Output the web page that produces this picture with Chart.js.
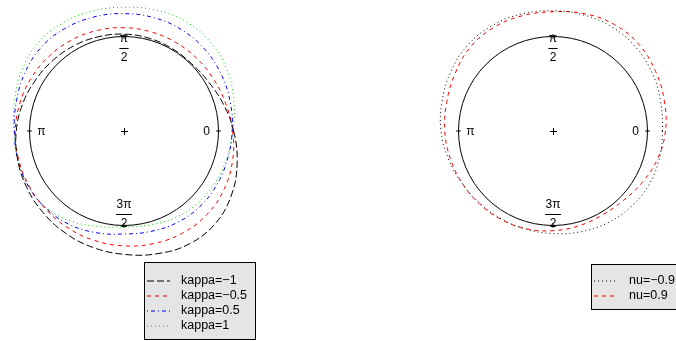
<!DOCTYPE html>
<html>
<head>
<meta charset="utf-8">
<script src="https://cdn.jsdelivr.net/npm/chart.js@4.4.0/dist/chart.umd.min.js"></script>
<style>
  html, body { margin: 0; padding: 0; background: #ffffff; width: 676px; height: 341px; overflow: hidden; }
  canvas { position: absolute; top: 0; }
  #kappaPlot { left: 0; }
  #nuPlot { left: 338px; }
</style>
</head>
<body>
<canvas id="kappaPlot" width="338" height="341"></canvas>
<canvas id="nuPlot" width="338" height="341"></canvas>
<script>
// Angles (degrees, counter-clockwise from 0) at which the densities are evaluated
const angles = [0, 15, 30, 45, 60, 75, 90, 105, 120, 135, 150, 165,
                180, 195, 210, 225, 240, 255, 270, 285, 300, 315, 330, 345];

// Circular density values, kappa family
const kappaNames = ['kappa=\u22121', 'kappa=\u22120.5', 'kappa=0.5', 'kappa=1'];
const kappaMinus1 = [0.160, 0.090, 0.035, 0.010, 0.010, 0.017, 0.025, 0.033, 0.045, 0.060, 0.080, 0.110,
                     0.140, 0.165, 0.190, 0.215, 0.245, 0.275, 0.305, 0.345, 0.380, 0.375, 0.320, 0.240];
const kappaMinus05 = [0.150, 0.115, 0.095, 0.088, 0.085, 0.087, 0.093, 0.101, 0.110, 0.120, 0.130, 0.140,
                      0.150, 0.155, 0.160, 0.170, 0.185, 0.200, 0.215, 0.232, 0.245, 0.245, 0.225, 0.190];
const kappaPlus05 = [0.145, 0.165, 0.190, 0.215, 0.232, 0.240, 0.242, 0.248, 0.252, 0.245, 0.215, 0.180,
                     0.160, 0.162, 0.168, 0.162, 0.145, 0.115, 0.090, 0.100, 0.120, 0.133, 0.135, 0.135];
const kappaPlus1 = [0.150, 0.205, 0.265, 0.310, 0.330, 0.322, 0.310, 0.312, 0.315, 0.300, 0.255, 0.200,
                    0.165, 0.165, 0.170, 0.155, 0.105, 0.045, 0.015, 0.030, 0.065, 0.090, 0.108, 0.125];

// Circular density values, nu family
const nuNames = ['nu=\u22120.9', 'nu=0.9'];
const nuMinus09 = [0.158, 0.180, 0.215, 0.245, 0.265, 0.270, 0.272, 0.282, 0.288, 0.280, 0.250, 0.215,
                   0.185, 0.145, 0.110, 0.088, 0.078, 0.077, 0.085, 0.105, 0.130, 0.150, 0.163, 0.163];
const nuPlus09 = [0.190, 0.220, 0.255, 0.290, 0.300, 0.285, 0.262, 0.262, 0.262, 0.245, 0.200, 0.165,
                  0.145, 0.125, 0.108, 0.095, 0.085, 0.072, 0.055, 0.040, 0.030, 0.045, 0.090, 0.145];

// Axis annotations around the unit circle: angle, numerator, denominator
const tickAngles = [0, 90, 180, 270];
const tickTop = ['0', '\u03c0', '\u03c0', '3\u03c0'];
const tickBottom = ['', '2', '', '2'];

const AXIS_FONT = '12px "Liberation Sans", Arial, Helvetica, sans-serif';
const LEGEND_FONT = '12.5px "Liberation Sans", Arial, Helvetica, sans-serif';
const HALF = 122;          // half side of the square plotting area, px
const UNIT = 94.5;         // pixel radius of the unit circle
const R_MAX = HALF / UNIT; // radial scale maximum

// Radar indices run clockwise from the right; reorder the counter-clockwise data
function clockwise(values) {
  const n = values.length;
  return values.map((_, i) => 1 + values[(n - i) % n]);
}
const radarLabels = angles.map((_, i) => String((360 - angles[i]) % 360));

// Unit circle, centre mark, ticks, tick labels and the legend box
const circularAxis = {
  id: 'circularAxis',
  beforeDatasetsDraw(chart) {
    const sc = chart.scales.r;
    const cx = sc.xCenter, cy = sc.yCenter;
    const rad = sc.getDistanceFromCenterForValue(1);
    const ctx = chart.ctx;
    ctx.save();
    ctx.strokeStyle = '#000';
    ctx.lineWidth = 1;
    ctx.setLineDash([]);
    ctx.beginPath();
    ctx.arc(cx, cy, rad, 0, Math.PI * 2);
    ctx.stroke();
    // centre cross
    ctx.beginPath();
    ctx.moveTo(cx - 3, cy + 0.5); ctx.lineTo(cx + 4, cy + 0.5);
    ctx.moveTo(cx + 0.5, cy - 3); ctx.lineTo(cx + 0.5, cy + 4);
    ctx.stroke();
    ctx.font = AXIS_FONT;
    ctx.fillStyle = '#000';
    ctx.textAlign = 'center';
    ctx.textBaseline = 'middle';
    tickAngles.forEach((a, i) => {
      const t = a * Math.PI / 180;
      const c = Math.cos(t), s = -Math.sin(t);
      ctx.beginPath();
      ctx.moveTo(cx + c * rad * 0.975, cy + s * rad * 0.975);
      ctx.lineTo(cx + c * rad * 1.025, cy + s * rad * 1.025);
      ctx.stroke();
      const lx = cx + c * rad * 0.875, ly = cy + s * rad * 0.875;
      if (tickBottom[i]) {
        const w = Math.max(ctx.measureText(tickTop[i]).width, ctx.measureText(tickBottom[i]).width) + 1;
        ctx.fillText(tickTop[i], lx, ly - 9.5);
        ctx.fillText(tickBottom[i], lx, ly + 9.5);
        ctx.beginPath();
        ctx.moveTo(lx - w / 2, Math.round(ly) + 0.5); ctx.lineTo(lx + w / 2, Math.round(ly) + 0.5);
        ctx.stroke();
      } else {
        ctx.fillText(tickTop[i], lx, ly + 0.5);
      }
    });
    ctx.restore();
  },
  afterDraw(chart, args, opts) {
    const lg = opts.legend;
    if (!lg) return;
    const ctx = chart.ctx;
    ctx.save();
    ctx.fillStyle = '#e5e5e5';
    ctx.fillRect(lg.x, lg.y, lg.w, lg.h);
    ctx.strokeStyle = '#000';
    ctx.lineWidth = 1;
    ctx.strokeRect(lg.x, lg.y, lg.w, lg.h);
    ctx.font = LEGEND_FONT;
    ctx.textAlign = 'left';
    ctx.textBaseline = 'middle';
    chart.data.datasets.forEach((ds, i) => {
      const y = lg.firstRow + i * lg.rowGap;
      ctx.strokeStyle = ds.borderColor;
      ctx.setLineDash(ds.borderDash || []);
      ctx.beginPath();
      ctx.moveTo(lg.sampleX0, y); ctx.lineTo(lg.sampleX1, y);
      ctx.stroke();
      ctx.setLineDash([]);
      ctx.fillStyle = '#000';
      ctx.fillText(ds.label, lg.textX, y);
    });
    ctx.restore();
  }
};

function makeChart(id, series, padLeft, legend) {
  const padRight = 338 - padLeft - 2 * HALF;
  const padTop = 131.7 - HALF;
  const padBottom = 341 - padTop - 2 * HALF;
  return new Chart(document.getElementById(id), {
    type: 'radar',
    data: {
      labels: radarLabels,
      datasets: series.map(s => ({
        label: s.name,
        data: clockwise(s.values),
        borderColor: s.color,
        borderDash: s.dash,
        borderWidth: 1,
        pointRadius: 0,
        pointHoverRadius: 0,
        fill: false,
        tension: 0.4,
        clip: false
      }))
    },
    options: {
      responsive: false,
      animation: false,
      events: [],
      layout: { padding: { left: padLeft, right: padRight, top: padTop, bottom: padBottom } },
      plugins: {
        legend: { display: false },
        tooltip: { enabled: false },
        circularAxis: { legend }
      },
      scales: {
        r: {
          min: 0,
          max: R_MAX,
          startAngle: 90,
          grid: { display: false },
          angleLines: { display: false },
          ticks: { display: false },
          pointLabels: { display: false }
        }
      }
    },
    plugins: [circularAxis]
  });
}

makeChart('kappaPlot', [
  { name: kappaNames[0], values: kappaMinus1, color: '#000000', dash: [7, 3] },
  { name: kappaNames[1], values: kappaMinus05, color: '#ff0000', dash: [4, 4] },
  { name: kappaNames[2], values: kappaPlus05, color: '#0000ff', dash: [1, 3, 4, 3] },
  { name: kappaNames[3], values: kappaPlus1, color: '#00cd00', dash: [1, 3] }
], 124.3 - HALF, { x: 144.5, y: 262.5, w: 111, h: 77, firstRow: 281, rowGap: 15, sampleX0: 147, sampleX1: 170, textX: 181 });

makeChart('nuPlot', [
  { name: nuNames[0], values: nuMinus09, color: '#000000', dash: [1, 3] },
  { name: nuNames[1], values: nuPlus09, color: '#ff0000', dash: [4, 4] }
], 553.3 - 338 - HALF, { x: 253.5, y: 264.5, w: 100, h: 45, firstRow: 281, rowGap: 15, sampleX0: 256, sampleX1: 279, textX: 291 });
</script>
</body>
</html>
